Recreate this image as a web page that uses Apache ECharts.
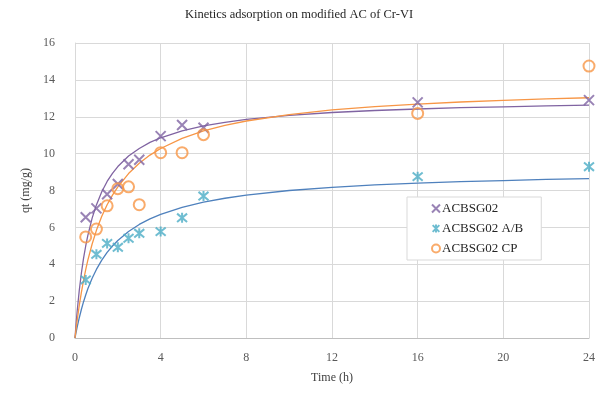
<!DOCTYPE html>
<html><head><meta charset="utf-8">
<script src="https://cdn.jsdelivr.net/npm/echarts@6/dist/echarts.min.js"></script>
<style>html,body{margin:0;padding:0;background:#fff}#c{width:598px;height:394px}</style>
</head><body><div id="c"></div>
<script>
const xTicks = [0, 4, 8, 12, 16, 20, 24];
const yTicks = [0, 2, 4, 6, 8, 10, 12, 14, 16];
const seriesNames = ['ACBSG02', 'ACBSG02 A/B', 'ACBSG02 CP'];

// measured points (time h, qt mg/g)
const timesObs = [0.5, 1, 1.5, 2, 2.5, 3, 4, 5, 6, 16, 24];
const acbsg02 = [6.55, 7.03, 7.8, 8.35, 9.42, 9.67, 10.95, 11.55, 11.4, 12.78, 12.9];
const acbsg02AB = [3.15, 4.54, 5.13, 4.92, 5.41, 5.68, 5.77, 6.52, 7.7, 8.75, 9.29];
const acbsg02CP = [5.48, 5.91, 7.17, 8.1, 8.2, 7.23, 10.05, 10.05, 11.03, 12.18, 14.75];

// fitted curves
const timesFit = [0, 0.05, 0.1, 0.2, 0.3, 0.4, 0.5, 0.6, 0.8, 1, 1.25, 1.5, 1.75, 2, 2.5, 3, 3.5, 4, 5, 6, 7, 8, 10, 12, 14, 16, 18, 20, 22, 24];
const fitACBSG02 = [0, 0.76, 1.44, 2.59, 3.54, 4.33, 4.99, 5.57, 6.50, 7.22, 7.93, 8.49, 8.93, 9.30, 9.87, 10.28, 10.61, 10.86, 11.24, 11.50, 11.70, 11.86, 12.08, 12.23, 12.34, 12.42, 12.49, 12.54, 12.59, 12.63];
const fitAB = [0, 0.30, 0.59, 1.10, 1.56, 1.97, 2.33, 2.67, 3.24, 3.72, 4.22, 4.64, 4.99, 5.29, 5.78, 6.16, 6.46, 6.71, 7.09, 7.37, 7.58, 7.75, 8.00, 8.17, 8.30, 8.40, 8.48, 8.54, 8.60, 8.64];
const fitCP = [0, 0.49, 0.95, 1.77, 2.49, 3.13, 3.71, 4.22, 5.10, 5.84, 6.60, 7.23, 7.75, 8.20, 8.92, 9.48, 9.92, 10.28, 10.83, 11.23, 11.53, 11.77, 12.12, 12.37, 12.55, 12.69, 12.80, 12.89, 12.97, 13.03];

const pairs = (xs, ys) => xs.map((x, i) => [x, ys[i]]);
const FONT = '"Liberation Serif", "DejaVu Serif", serif';
const C_PURPLE = '#8064a2', C_TEAL = '#4bacc6', C_ORANGE = '#f79646', C_BLUE = '#4f81bd';
const X_SYM = 'path://M0,0L10,10M10,0L0,10';
const STAR_SYM = 'path://M0,0L10,10M10,0L0,10M5,-1L5,11';

const chart = echarts.init(document.getElementById('c'), null, {renderer: 'canvas'});
chart.setOption({
  animation: false,
  backgroundColor: '#fff',
  title: {
    text: 'Kinetics adsorption on modified AC of Cr-VI',
    left: 'center', top: 3,
    textStyle: {fontFamily: FONT, fontSize: 12.5, fontWeight: 'normal', color: '#262626'}
  },
  grid: {left: 75, right: 9, top: 43, bottom: 56, containLabel: false},
  legend: {
    data: seriesNames,
    orient: 'vertical',
    left: 407, top: 197,
    width: 136,
    padding: [5, 18, 5, 24],
    itemGap: 7,
    itemWidth: 8, itemHeight: 8,
    backgroundColor: '#fff',
    borderColor: '#d9d9d9', borderWidth: 1,
    textStyle: {fontFamily: FONT, fontSize: 13, color: '#262626', padding: [0, 0, 0, -3]}
  },
  xAxis: {
    type: 'value', min: xTicks[0], max: xTicks[xTicks.length - 1], interval: 4,
    name: 'Time (h)', nameLocation: 'middle', nameGap: 34,
    nameTextStyle: {fontFamily: FONT, fontSize: 12, color: '#404040'},
    axisLine: {show: true, lineStyle: {color: '#bfbfbf', width: 1}},
    axisTick: {show: false},
    axisLabel: {fontFamily: FONT, fontSize: 12, color: '#595959', margin: 14},
    splitLine: {show: true, lineStyle: {color: '#d9d9d9', width: 1}}
  },
  yAxis: {
    type: 'value', min: yTicks[0], max: yTicks[yTicks.length - 1], interval: 2,
    name: 'qt (mg/g)', nameLocation: 'middle', nameGap: 43, nameRotate: 90,
    nameTextStyle: {fontFamily: FONT, fontSize: 12, color: '#404040'},
    axisLine: {show: true, lineStyle: {color: '#d9d9d9', width: 1}},
    axisTick: {show: false},
    axisLabel: {fontFamily: FONT, fontSize: 12, color: '#595959', margin: 20},
    splitLine: {show: true, lineStyle: {color: '#d9d9d9', width: 1}}
  },
  series: [
    {name: 'fitA', type: 'line', data: pairs(timesFit, fitACBSG02), smooth: false,
     showSymbol: false, lineStyle: {color: C_PURPLE, width: 1.3}, z: 2, silent: true},
    {name: 'fitAB', type: 'line', data: pairs(timesFit, fitAB), smooth: false,
     showSymbol: false, lineStyle: {color: C_BLUE, width: 1.3}, z: 2, silent: true},
    {name: 'fitCP', type: 'line', data: pairs(timesFit, fitCP), smooth: false,
     showSymbol: false, lineStyle: {color: C_ORANGE, width: 1.3}, z: 2, silent: true},
    {name: seriesNames[0], type: 'scatter', data: pairs(timesObs, acbsg02), symbol: X_SYM, symbolSize: 10,
     itemStyle: {color: 'rgba(0,0,0,0)', borderColor: C_PURPLE, borderWidth: 2}, z: 5},
    {name: seriesNames[1], type: 'scatter', data: pairs(timesObs, acbsg02AB), symbol: STAR_SYM, symbolSize: 10,
     itemStyle: {color: 'rgba(0,0,0,0)', borderColor: C_TEAL, borderWidth: 2}, z: 5},
    {name: seriesNames[2], type: 'scatter', data: pairs(timesObs, acbsg02CP), symbol: 'circle', symbolSize: 11,
     itemStyle: {color: 'rgba(255,255,255,0)', borderColor: C_ORANGE, borderWidth: 2}, z: 5}
  ]
});
</script></body></html>
